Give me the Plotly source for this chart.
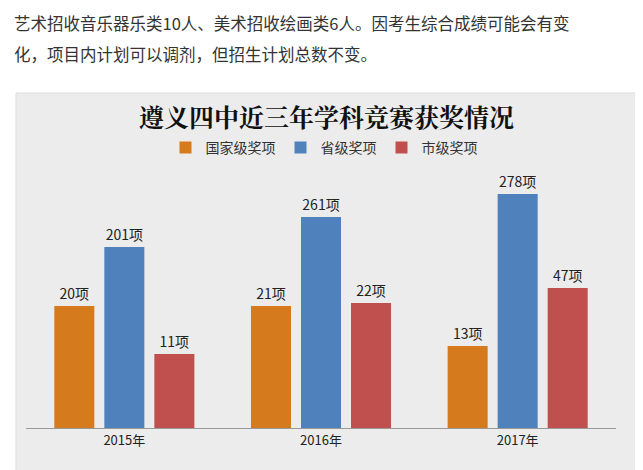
import plotly.graph_objects as go

years = ["2015年", "2016年", "2017年"]
series_names = ["国家级奖项", "省级奖项", "市级奖项"]
series_values = [[20, 21, 13], [201, 261, 278], [11, 22, 47]]
# displayed bar heights as drawn in the picture (the original chart is not to scale)
series_heights = [[122, 122, 82], [181, 211, 234], [74, 125, 140]]
colors = ["#D67A1E", "#4F81BD", "#C0504D"]

W, H = 643, 470
fig = go.Figure()
for name, vals, hts, c in zip(series_names, series_values, series_heights, colors):
    fig.add_trace(go.Bar(
        x=years, y=hts, name=name, marker_color=c, marker_line_width=0,
        text=[f"{v}项" for v in vals], textposition="outside",
        textfont=dict(size=14, color="#222", family="Noto Sans CJK SC"),
        cliponaxis=False))

fig.add_shape(type="rect", xref="paper", yref="paper",
              x0=8/W, x1=635/W, y0=1-465/H, y1=1-85/H,
              fillcolor="#ECECEC", line=dict(color="#DDDDDD", width=1), layer="below")

fig.add_annotation(xref="paper", yref="paper", x=4/W, y=1-15/H, xanchor="left", yanchor="middle",
                   text="艺术招收音乐器乐类10人、美术招收绘画类6人。因考生综合成绩可能会有变",
                   showarrow=False, font=dict(size=16.5, color="#333", family="Noto Sans CJK SC"))
fig.add_annotation(xref="paper", yref="paper", x=4/W, y=1-46/H, xanchor="left", yanchor="middle",
                   text="化，项目内计划可以调剂，但招生计划总数不变。",
                   showarrow=False, font=dict(size=16.5, color="#333", family="Noto Sans CJK SC"))
fig.add_annotation(xref="paper", yref="paper", x=318/W, y=1-108/H, xanchor="center", yanchor="middle",
                   text="<b>遵义四中近三年学科竞赛获奖情况</b>",
                   showarrow=False, font=dict(size=25, color="#111", family="Noto Serif CJK SC, Noto Sans CJK SC"))

fig.update_layout(
    width=W, height=H, margin=dict(l=0, r=0, t=0, b=0),
    paper_bgcolor="white", plot_bgcolor="rgba(0,0,0,0)",
    barmode="group", bargap=0.237, bargroupgap=0.2,
    font=dict(family="Noto Sans CJK SC", color="#333"),
    legend=dict(orientation="h", x=316/W, xanchor="center", y=1-140/H, yanchor="middle",
                font=dict(size=14, color="#333"), bgcolor="rgba(0,0,0,0)", itemwidth=30),
    xaxis=dict(domain=[18/W, 608/W], showline=True, linecolor="#999", linewidth=1,
               ticks="", tickfont=dict(size=13, color="#222")),
    yaxis=dict(domain=[1-420/H, 1-150/H], range=[0, 270], visible=False, fixedrange=True),
    showlegend=True,
)
fig.write_html("out.html")
